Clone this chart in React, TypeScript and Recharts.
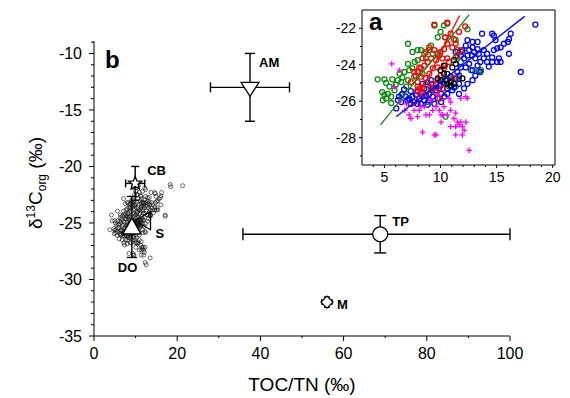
import React from "react";
import { ScatterChart, Scatter, XAxis, YAxis, ErrorBar, ReferenceArea } from "recharts";

const FONT = "'Liberation Sans', Arial, Helvetica, sans-serif";

// panel a: sediment TOC/TN vs d13Corg, one list per sampling area
const greenPts = [
  [4.4, -24.8], [5.0, -24.8], [5.15, -25.0], [5.7, -24.8], [4.8, -25.5], [4.85, -25.95], [5.15, -25.85],
  [5.3, -25.6], [5.6, -25.75], [6.0, -25.1], [6.2, -24.85], [6.5, -24.95], [6.6, -24.7], [6.8, -24.4],
  [7.1, -23.95], [7.2, -24.3], [7.5, -24.2], [7.1, -22.85], [7.5, -23.3], [7.95, -23.2], [8.25, -23.2],
  [7.7, -23.85], [7.95, -23.75], [8.55, -23.4], [8.7, -23.65], [9.0, -23.2], [9.45, -21.85], [9.75, -22.5],
  [10.0, -22.2], [10.3, -21.85], [10.6, -21.75], [10.4, -22.5], [11.35, -22.65], [11.95, -23.3], [12.4, -22.05],
  [11.8, -23.85], [13.6, -24.3], [13.4, -24.35], [12.7, -24.3], [9.15, -22.95], [9.3, -23.4], [9.9, -23.5],
  [11.35, -23.6], [11.5, -23.2], [7.95, -25.2], [7.65, -24.65], [8.4, -24.5], [7.1, -24.85], [6.35, -24.5],
  [6.95, -25.2], [6.5, -25.65], [5.9, -25.4], [5.45, -25.2], [10.45, -26.85], [10.2, -24.95], [10.75, -25.2],
  [11.05, -24.75], [11.35, -25.2], [11.65, -24.75], [5.0, -25.65], [5.6, -26.1], [7.2, -25.95], [8.85, -26.05],
  [9.15, -25.4], [8.7, -25.1],
];
const redPts = [
  [9.45, -21.8], [10.6, -21.7], [11.65, -22.2], [12.2, -21.9], [10.4, -22.5], [10.9, -22.3], [11.2, -22.6],
  [11.35, -22.85], [11.05, -23.05], [10.6, -22.85], [10.3, -23.15], [10.0, -23.3], [9.75, -23.4], [9.45, -23.2],
  [10.15, -23.65], [10.6, -23.65], [9.6, -23.75], [9.15, -23.65], [8.4, -23.65], [8.85, -23.85], [8.55, -24.05],
  [8.1, -24.15], [7.65, -24.4], [7.95, -24.4], [8.25, -24.2], [7.8, -24.6], [8.25, -24.65], [7.35, -24.95],
  [7.95, -24.95], [8.1, -25.3], [7.95, -25.4], [9.3, -25.05], [9.75, -24.85], [10.0, -24.6], [10.3, -24.2],
  [10.4, -24.05], [10.75, -23.85], [9.75, -24.15], [9.3, -24.2], [9.0, -24.5], [8.7, -24.75], [9.9, -25.85],
  [9.6, -25.5], [9.15, -25.25], [8.4, -25.25], [8.55, -25.6], [10.2, -25.3], [11.2, -24.75], [9.0, -23.05],
  [8.7, -23.3], [11.8, -23.2], [11.5, -23.5],
];
const bluePts = [
  [18.45, -21.8], [17.15, -24.4], [16.25, -22.3], [16.1, -22.6], [16.0, -22.75], [15.65, -22.85], [15.35, -23.05],
  [15.05, -23.1], [14.75, -23.2], [14.6, -22.3], [14.75, -22.4], [13.7, -22.3], [13.3, -22.75], [12.85, -22.75],
  [12.4, -22.65], [12.25, -22.95], [12.55, -23.2], [13.0, -23.3], [13.4, -23.4], [13.85, -23.2], [14.15, -23.4],
  [14.6, -23.6], [15.05, -23.85], [15.35, -23.85], [14.6, -23.85], [14.15, -23.85], [13.85, -23.65], [13.55, -23.85],
  [13.1, -23.65], [12.8, -23.5], [12.4, -23.5], [12.1, -23.65], [11.8, -23.5], [16.1, -23.4], [14.3, -24.1],
  [13.3, -24.05], [12.85, -24.3], [12.55, -23.95], [12.25, -24.15], [11.8, -24.15], [11.5, -24.4], [11.65, -24.6],
  [11.35, -24.75], [10.9, -24.65], [10.6, -24.85], [10.3, -25.05], [10.0, -25.15], [9.85, -25.3], [9.6, -25.4],
  [9.3, -25.3], [9.0, -25.6], [8.7, -25.65], [8.4, -25.75], [8.1, -25.85], [7.8, -25.65], [7.5, -25.75],
  [7.2, -25.85], [6.9, -25.75], [6.6, -25.6], [6.3, -25.75], [6.2, -25.95], [6.05, -26.4], [6.5, -26.05],
  [7.05, -25.95], [7.65, -26.05], [8.25, -26.15], [8.85, -26.2], [9.45, -26.15], [10.05, -26.05], [9.0, -25.95],
  [8.55, -25.3], [8.4, -25.05], [8.85, -24.95], [9.15, -24.85], [9.6, -25.05], [10.05, -25.6], [10.6, -25.3],
  [11.05, -25.4], [11.65, -25.6], [12.1, -25.3], [12.4, -25.05], [12.85, -24.85], [13.1, -24.6], [13.55, -24.4],
  [11.95, -23.2], [11.35, -23.3], [15.2, -23.65], [12.85, -23.05], [13.3, -23.15], [14.9, -22.65], [7.95, -25.45],
  [7.35, -25.45], [6.75, -25.35], [9.3, -25.75], [9.75, -25.85], [10.35, -25.75], [10.6, -25.6], [11.2, -25.25],
  [11.65, -25.05], [8.55, -25.95], [7.95, -26.15], [7.35, -26.15],
];
const blackPts = [
  [10.0, -24.3], [10.3, -24.5], [10.6, -24.5], [10.45, -24.85], [10.9, -24.95], [10.6, -25.05], [10.9, -25.15],
  [11.2, -25.05], [10.3, -24.05], [11.2, -23.75], [11.35, -23.95], [11.95, -24.75], [10.0, -24.85], [9.75, -24.75],
  [11.05, -24.15],
];
const magentaPts = [
  [5.65, -23.95], [6.35, -24.3], [5.9, -25.2], [6.35, -26.05], [6.8, -26.5], [7.2, -26.75], [7.35, -26.95],
  [7.95, -26.85], [8.1, -26.5], [8.55, -26.3], [8.7, -26.75], [9.0, -26.75], [9.3, -26.5], [9.6, -26.3],
  [9.9, -26.5], [10.2, -26.75], [10.05, -27.15], [10.6, -26.75], [10.9, -26.5], [11.2, -26.95], [11.5, -27.15],
  [11.65, -27.3], [11.95, -27.4], [11.35, -27.4], [11.8, -27.15], [12.25, -27.15], [10.9, -27.4], [12.1, -27.6],
  [11.35, -27.85], [11.95, -27.85], [8.4, -27.7], [9.45, -27.85], [9.6, -27.85], [12.55, -28.7], [11.8, -25.85],
  [12.25, -25.75], [12.4, -25.85], [10.75, -25.85], [10.3, -26.3], [9.15, -25.95], [9.75, -25.65], [7.65, -26.5],
  [8.25, -26.3], [6.95, -26.15], [11.35, -26.65], [10.05, -26.75], [10.9, -26.05],
];
// regression lines (end points)
const greenFit = [[4.65, -27.3], [12.55, -21.25]];
const redFit = [[7.6, -26.25], [11.7, -21.3]];
const blueFit = [[6.05, -26.85], [17.5, -21.35]];

// panel b: a few scattered samples not visible in panel a
const extraCloud = [
  [18.3, -21.6], [21.3, -21.7], [17.1, -24.3], [12.3, -28.5], [9.4, -27.7], [4.2, -24.3], [3.8, -25.6], [13.5, -28.1],
];

// panel b: end members (mean +- error)
const sites = ["AM", "TP", "M", "CB", "S", "DO"];
const siteX = [37.5, 68.8, 56, 9.9, 11.9, 9.1];
const siteY = [-13, -26, -32, -21.5, -24.8, -25.35];
const siteXErr = [[9.5, 9.5], [33, 31.2], [1.2, 1.2], [2.3, 2.3], [0, 0], [0, 0]];
const siteYErr = [3, 1.65, 0.45, 1.5, 0, 2.7];

// ticks
const mainXTicks = [0, 20, 40, 60, 80, 100];
const mainXMinor = [10, 30, 50, 70, 90];
const mainYTicks = [-35, -30, -25, -20, -15, -10];
const mainYMinor = [-34, -33, -32, -31, -29, -28, -27, -26, -24, -23, -22, -21, -19, -18, -17, -16, -14, -13, -12, -11, -9];
const insetXTicks = [5, 10, 15, 20];
const insetXMinor = [4, 6, 7, 8, 9, 11, 12, 13, 14, 16, 17, 18, 19];
const insetYTicks = [-28, -26, -24, -22];
const insetYMinor = [-29, -27, -25, -23];

const toXY = (pts: number[][]) => pts.map(([x, y]) => ({ x, y }));
const allTicks = (a: number[], b: number[]) => [...a, ...b].sort((p, q) => p - q);

type Side = "bottom" | "left" | "top" | "right";
function axisTick(side: Side, majors: number[], majorLen: number, minorLen: number, size = 0, gap = 0) {
  return (p: any) => {
    const v = p.payload.value as number;
    const major = majors.includes(v);
    const len = major ? majorLen : minorLen;
    const { x, y } = p;
    const horiz = side === "bottom" || side === "top";
    const sgn = side === "bottom" || side === "right" ? 1 : -1;
    const d = horiz ? `M${x},${y}v${sgn * len}` : `M${x},${y}h${sgn * len}`;
    let label = null;
    if (major && size > 0) {
      label = horiz ? (
        <text x={x} y={y + gap} textAnchor="middle" fontSize={size} fontFamily={FONT} fill="#000">{v}</text>
      ) : (
        <text x={x - gap} y={y + size * 0.36} textAnchor="end" fontSize={size} fontFamily={FONT} fill="#000">{v}</text>
      );
    }
    return (
      <g>
        <path d={d} stroke="#000" strokeWidth={1} />
        {label}
      </g>
    );
  };
}

const ring = (color: string, r: number, w: number) => (p: any) =>
  <circle cx={p.cx} cy={p.cy} r={r} fill="none" stroke={color} strokeWidth={w} />;
const plus = (color: string) => (p: any) =>
  <path d={`M${p.cx - 2.8},${p.cy}h5.6M${p.cx},${p.cy - 2.8}v5.6`} stroke={color} strokeWidth={1.3} fill="none" />;
const none = () => <g />;

const labelOffset: Record<string, [number, number]> = {
  AM: [9, -20], TP: [12, -8], M: [10, 7], CB: [12, -8], S: [12, 17], DO: [-14, 45],
};
const capWidth = [5, 6, 3, 4, 0, 5];

function marker(name: string, cx: number, cy: number) {
  const st = { fill: "#fff", stroke: "#000", strokeWidth: 1.3 };
  switch (name) {
    case "AM":
      return <path d={`M${cx - 9},${cy - 5}L${cx + 9},${cy - 5}L${cx},${cy + 9}Z`} {...st} />;
    case "TP":
      return <circle cx={cx} cy={cy} r={7.5} {...st} />;
    case "M":
      return <path d={`M${cx},${cy - 6}L${cx + 6},${cy}L${cx},${cy + 6}L${cx - 6},${cy}Z`} {...st} />;
    case "CB": {
      const pts: string[] = [];
      for (let k = 0; k < 10; k++) {
        const r = k % 2 === 0 ? 7 : 3;
        const a = -Math.PI / 2 + (k * Math.PI) / 5;
        pts.push(`${cx + r * Math.cos(a)},${cy + r * Math.sin(a)}`);
      }
      return <polygon points={pts.join(" ")} {...st} />;
    }
    case "S":
      return <path d={`M${cx - 9},${cy}L${cx + 7},${cy - 9}L${cx + 7},${cy + 9}Z`} fill="none" stroke="#000" strokeWidth={1.3} />;
    default:
      return <path d={`M${cx},${cy - 9}L${cx + 9},${cy + 7}L${cx - 9},${cy + 7}Z`} {...st} />;
  }
}

const siteShape = (name: string) => (p: any) => {
  const [dx, dy] = labelOffset[name];
  return (
    <g>
      {marker(name, p.cx, p.cy)}
      <text x={p.cx + dx} y={p.cy + dy} fontSize={13} fontWeight="bold" fontFamily={FONT} fill="#000">{name}</text>
    </g>
  );
};

const cloud = toXY([...greenPts, ...redPts, ...bluePts, ...blackPts, ...magentaPts, ...extraCloud]);

function MainChart() {
  const order = ["S", "AM", "TP", "M", "DO", "CB"];
  return (
    <ScatterChart width={570} height={398} margin={{ top: 41, right: 60, bottom: 0, left: 0 }}>
      <XAxis type="number" dataKey="x" domain={[0, 100]} allowDataOverflow ticks={allTicks(mainXTicks, mainXMinor)}
        interval={0} height={62} tickSize={0} tickMargin={0} tickLine={false} stroke="#000"
        tick={axisTick("bottom", mainXTicks, 5, 2, 16, 23)} />
      <XAxis xAxisId="top" orientation="top" type="number" domain={[0, 100]} allowDataOverflow
        ticks={[10, 20, 30, 40, 50, 60, 70, 80, 90]} interval={0} height={0} tickSize={0} tickMargin={0}
        tickLine={false} stroke="#000" tick={axisTick("top", [], -3, -3)} />
      <YAxis type="number" dataKey="y" domain={[-35, -8.9]} allowDataOverflow ticks={allTicks(mainYTicks, mainYMinor)}
        interval={0} width={94} tickSize={0} tickMargin={0} tickLine={false} stroke="#000"
        tick={axisTick("left", mainYTicks, 5, 3, 16, 12)} />
      <YAxis yAxisId="right" orientation="right" type="number" domain={[-35, -8.9]} allowDataOverflow
        ticks={allTicks(mainYTicks, mainYMinor)} interval={0} width={0} tickSize={0} tickMargin={0}
        tickLine={false} stroke="#000" tick={axisTick("right", mainYTicks, 2, 2)} />
      <Scatter data={[{ x: siteX[4], y: siteY[4] }]} shape={siteShape("S")} isAnimationActive={false} />
      <Scatter data={cloud} shape={ring("#111", 2, 0.6)} isAnimationActive={false} />
      {order.filter((n) => n !== "S").map((name) => {
        const i = sites.indexOf(name);
        const d = [{ x: siteX[i], y: siteY[i], ex: siteXErr[i], ey: siteYErr[i] }];
        return (
          <Scatter key={name} data={d} shape={siteShape(name)} isAnimationActive={false}>
            {siteXErr[i][0] + siteXErr[i][1] > 0 && (
              <ErrorBar dataKey="ex" direction="x" width={capWidth[i]} stroke="#000" strokeWidth={1.4} />
            )}
            {siteYErr[i] > 0 && (
              <ErrorBar dataKey="ey" direction="y" width={capWidth[i]} stroke="#000" strokeWidth={1.4} />
            )}
          </Scatter>
        );
      })}
    </ScatterChart>
  );
}

function InsetChart() {
  return (
    <ScatterChart width={270} height={200} margin={{ top: 10, right: 15, bottom: 0, left: 0 }}>
      <XAxis type="number" dataKey="x" domain={[3, 20.2]} allowDataOverflow ticks={allTicks(insetXTicks, insetXMinor)}
        interval={0} height={35} tickSize={0} tickMargin={0} tickLine={false} axisLine={false}
        tick={axisTick("bottom", insetXTicks, 3, 2, 14, 17)} />
      <XAxis xAxisId="top" orientation="top" type="number" domain={[3, 20.2]} allowDataOverflow
        ticks={allTicks(insetXTicks, insetXMinor)} interval={0} height={0} tickSize={0} tickMargin={0}
        tickLine={false} axisLine={false} tick={axisTick("top", [], 2, 2)} />
      <YAxis type="number" dataKey="y" domain={[-29.5, -21]} allowDataOverflow ticks={allTicks(insetYTicks, insetYMinor)}
        interval={0} width={62} tickSize={0} tickMargin={0} tickLine={false} axisLine={false}
        tick={axisTick("left", insetYTicks, 3, 2, 14, 6)} />
      <YAxis yAxisId="right" orientation="right" type="number" domain={[-29.5, -21]} allowDataOverflow
        ticks={allTicks(insetYTicks, insetYMinor)} interval={0} width={0} tickSize={0} tickMargin={0}
        tickLine={false} axisLine={false} tick={axisTick("right", [], 2, 2)} />
      <ReferenceArea x1={3} x2={20.2} y1={-29.5} y2={-21} fill="#fff" fillOpacity={1} stroke="#000" strokeWidth={1} />
      <Scatter data={toXY(greenPts)} shape={ring("#0f8a0f", 2.5, 1.3)} isAnimationActive={false} />
      <Scatter data={toXY(bluePts)} shape={ring("#0000ff", 2.5, 1.3)} isAnimationActive={false} />
      <Scatter data={toXY(redPts)} shape={ring("#ff0000", 2.5, 1.3)} isAnimationActive={false} />
      <Scatter data={toXY(blackPts)} shape={ring("#000", 2.5, 1.3)} isAnimationActive={false} />
      <Scatter data={toXY(magentaPts)} shape={plus("#ff00ff")} isAnimationActive={false} />
      <Scatter data={toXY(greenFit)} shape={none} line={{ stroke: "#0f8a0f", strokeWidth: 1.3 }} isAnimationActive={false} />
      <Scatter data={toXY(redFit)} shape={none} line={{ stroke: "#ff0000", strokeWidth: 1.3 }} isAnimationActive={false} />
      <Scatter data={toXY(blueFit)} shape={none} line={{ stroke: "#0000ff", strokeWidth: 1.3 }} isAnimationActive={false} />
    </ScatterChart>
  );
}

export default function App() {
  return (
    <div style={{ position: "absolute", left: 0, top: 0, width: 570, height: 398, background: "#fff", fontFamily: FONT }}>
      <div style={{ position: "absolute", left: 0, top: 0 }}>
        <MainChart />
      </div>
      <div style={{ position: "absolute", left: 300, top: 0 }}>
        <InsetChart />
      </div>
      <svg width={570} height={398} style={{ position: "absolute", left: 0, top: 0, pointerEvents: "none" }}>
        <text x={302} y={391} textAnchor="middle" fontSize={19} fontFamily={FONT} fill="#000">TOC/TN (‰)</text>
        <text transform="translate(42,183) rotate(-90)" textAnchor="middle" fontSize={19} fontFamily={FONT} fill="#000">
          δ<tspan dy={-7} fontSize={12}>13</tspan><tspan dy={7}>C</tspan><tspan dy={4} fontSize={12}>org</tspan><tspan dy={-4}> (‰)</tspan>
        </text>
        <text x={105} y={68} fontSize={24} fontWeight="bold" fontFamily={FONT} fill="#000">b</text>
        <text x={369} y={30} fontSize={24} fontWeight="bold" fontFamily={FONT} fill="#000">a</text>
      </svg>
    </div>
  );
}
